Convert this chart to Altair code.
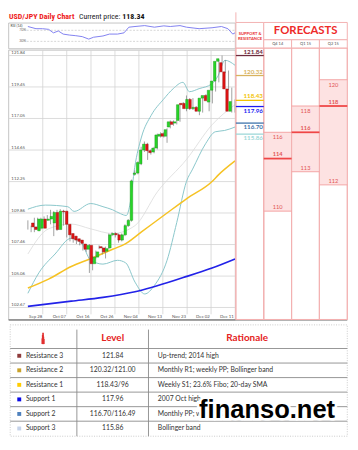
import altair as alt
import pandas as pd

# ---------------- data ----------------
OPEN = [109.1, 108.8, 108.5, 108.7, 109.4, 109.3, 109.4, 109.1, 109.9, 108.6,
        110.0, 110.0, 109.0, 108.3, 108.1, 107.9, 107.8, 107.5, 107.1, 107.4,
        106.0, 106.5, 107.3, 107.2, 106.95, 107.2, 108.2, 108.3, 108.2, 107.8,
        108.2, 108.9, 109.3, 112.8, 112.9, 113.6, 114.65, 115.1, 114.6, 114.5,
        114.8, 115.7, 115.9, 115.7, 116.4, 116.8, 116.7, 116.9, 118.2, 118.2,
        117.8, 118.5, 117.8, 117.9, 117.6, 118.6, 118.8, 118.3, 119.2, 119.9,
        121.4, 121.3, 120.6, 119.3, 117.6]
CLOSE = [108.8, 108.6, 109.4, 109.4, 108.7, 109.4, 109.6, 109.9, 108.6, 110.0,
         109.95, 109.0, 108.2, 107.9, 107.8, 107.7, 107.55, 107.1, 107.4, 106.0,
         106.5, 106.9, 107.2, 106.9, 107.15, 108.2, 108.3, 108.2, 107.8, 108.2,
         108.9, 109.3, 112.3, 112.9, 113.7, 114.65, 115.1, 114.6, 114.45, 114.8,
         115.8, 115.85, 115.7, 116.2, 116.8, 116.6, 116.8, 118.1, 118.1, 117.8,
         118.5, 117.8, 117.9, 117.6, 118.6, 118.8, 118.4, 119.2, 119.9, 121.4,
         121.6, 120.6, 119.3, 117.6, 118.34]
HIGH = [109.3, 108.9, 109.5, 109.5, 109.5, 109.6, 109.7, 110.1, 110.0, 110.1,
        110.15, 110.1, 109.1, 108.4, 108.2, 108.0, 107.9, 107.6, 107.5, 107.5,
        106.6, 107.0, 107.4, 107.3, 107.3, 108.3, 108.4, 108.4, 108.3, 108.3,
        109.0, 109.4, 112.4, 113.1, 113.8, 114.9, 115.3, 115.2, 114.7, 114.9,
        115.9, 116.0, 116.0, 116.3, 116.9, 116.9, 116.9, 118.2, 118.3, 118.8,
        118.6, 118.6, 118.0, 118.0, 118.7, 118.9, 118.9, 119.3, 120.0, 121.5,
        121.84, 121.5, 120.7, 119.4, 118.5]
LOW = [108.6, 108.4, 108.4, 108.6, 108.6, 109.2, 109.3, 109.0, 108.1, 108.5,
       109.85, 108.9, 108.0, 107.7, 107.6, 107.5, 107.4, 107.0, 106.9, 105.3,
       105.5, 106.4, 107.1, 106.7, 106.4, 107.1, 108.1, 108.0, 107.6, 107.7,
       108.1, 108.8, 109.2, 112.7, 112.8, 113.5, 114.5, 113.9, 114.3, 114.4,
       114.7, 115.6, 115.6, 115.2, 116.3, 116.5, 116.6, 116.8, 118.0, 117.6,
       117.7, 117.7, 117.6, 117.3, 117.5, 118.5, 117.6, 118.2, 119.1, 119.8,
       121.3, 120.5, 119.2, 117.5, 117.5]

BB_UP_IDX = [0, 5.4, 12.3, 14.3, 19.4, 23.2, 26.2, 28.6, 30.4, 31.5, 33.0, 35.1,
             38.1, 41.9, 44.9, 47.9, 49.9, 52.9, 56.8, 58.8, 60.9, 64.0]
BB_UP = [110.15, 110.46, 110.34, 109.98, 110.58, 110.34, 110.10, 109.81, 109.67,
         110.46, 113.33, 115.64, 117.29, 118.51, 119.32, 119.8, 119.09, 119.32,
         119.68, 120.31, 121.48, 121.1]
BB_LO_IDX = [0, 3.4, 8.4, 13.4, 16.5, 19.3, 23.2, 27.7, 30.2, 33.1, 36.1, 39.1,
             43.0, 46.0, 49.0, 50.9, 54.9, 57.9, 60.8, 64.0]
BB_LO = [103.75, 105.31, 106.74, 107.94, 107.6, 106.3, 105.97, 106.26, 106.07,
         104.6, 103.7, 104.35, 106.26, 109.14, 112.26, 113.2, 115.13, 116.04,
         116.14, 116.4]
BB_MID_IDX = [0, 6.4, 13.4, 19.3, 26.2, 33.1, 40.1, 49.0, 56.9, 64.0]
BB_MID = [106.74, 108.66, 109.02, 108.66, 108.3, 108.9, 111.5, 113.93, 116.57, 118.1]
SMA50_IDX = [0, 6.4, 13.4, 19.3, 26.2, 30.1, 35.1, 43.0, 49.0, 56.9, 58.8, 64.0]
SMA50 = [104.15, 104.83, 105.79, 106.38, 107.10, 107.51, 108.42, 109.86, 110.94,
         112.26, 112.74, 113.82]
SMA200_IDX = [0, 13.4, 23.2, 33.1, 48.0, 56.9, 64.0]
SMA200 = [102.75, 103.15, 103.44, 103.87, 104.95, 105.67, 106.36]

RSI_IDX = [0, 2.5, 4.5, 6.4, 7.9, 9.4, 10.9, 12.8, 14.8, 16.8, 18.8, 20.3, 23.2,
           25.2, 27.7, 29.7, 31.2, 33.1, 36.1, 39.1, 42.0, 44.0, 47.0, 49.0, 52.9,
           56.9, 59.8, 61.8, 63.3, 64.0]
RSI = [83.7, 75.8, 75.8, 73.4, 60.8, 67.6, 56.3, 52.9, 50.5, 47.1, 38.2, 45.0, 49.5,
       56.3, 56.3, 60.8, 81.3, 83.7, 87.0, 81.3, 86.0, 83.7, 87.0, 81.3, 75.8,
       79.2, 83.7, 75.8, 56.3, 60.8]
RSI_LEVELS = [70, 30]
RSI_LEVEL_LABELS = ["70%", "30%"]

DATE_LABELS = ["Sep 28", "Oct 07", "Oct 16", "Oct 26", "Nov 04", "Nov 13",
               "Nov 23", "Dec 02", "Dec 11"]
DATE_LABEL_IDX = [2.4, 9.7, 17.0, 24.4, 31.8, 39.3, 46.7, 54.1, 61.5]
GRID_IDX = [4.6, 12.0, 19.5, 26.9, 34.3, 41.7, 49.2, 56.6]
PRICE_TICKS = [121.84, 119.45, 117.05, 114.65, 112.25, 109.86, 107.46, 105.06, 102.67]

SR_LEVELS = [121.84, 120.32, 118.43, 117.96, 116.70, 115.86]
SR_KIND = ["R", "R", "R", "S", "S", "S"]
SR_COLORS = ["#6e2a3c", "#d8b35e", "#f3c300", "#1c1cf2", "#3c72aa", "#9ed8d8"]

FC_QUARTERS = ["Q4 14", "Q1 15", "Q2 15"]
FC_HIGH = [116, 118, 120]
FC_TARGET = [114, 116, 118]
FC_LOW = [110, 113, 112]

ROW_NAMES = ["Resistance 3", "Resistance 2", "Resistance 1",
             "Support 1", "Support 2", "Support 3"]
ROW_LEVELS = ["121.84", "120.32/121.00", "118.43/96", "117.96",
              "116.70/116.49", "115.86"]
ROW_RATIONALE = ["Up-trend; 2014 high", "Monthly R1; weekly PP; Bollinger band",
                 "Weekly S1; 23.6% Fibo; 20-day SMA", "2007 Oct high",
                 "Monthly PP; weekly S2; 38.2% Fibo", "Bollinger band"]
ROW_COLORS = ["#8e3b3b", "#c9a22a", "#ffcc00", "#0a0ae6", "#4f81bd", "#c5d3ea"]
ICON_BARS = [0.5, 0.8, 1.0, 0.65, 0.45]

# ---------------- layout ----------------
SX = 0.98
SY = 0.9644
W, H = 349, 434


def PX(x):
    return round((x - 1.0) * SX, 2)


def PY(y):
    return round((y - 1.0) * SY, 2)


def F(s):
    return round(s * SY, 2)


FONT = "Lato"
NARROW = "Liberation Sans Narrow, Roboto Condensed, Lato"
IDX_SCALE = alt.Scale(domain=[0, 64], range=[PX(21.7), PX(237.4)], nice=False, zero=False)
PRICE_SCALE = alt.Scale(domain=[102.67, 121.84], range=[PY(313.3), PY(46.7)], nice=False, zero=False)
RSI_SCALE = alt.Scale(domain=[0, 100], range=[PY(40.5), PY(11.2)], nice=False, zero=False)
COL_SCALE = alt.Scale(domain=[0, 4], range=[PX(238.3), PX(354.3)], nice=False, zero=False)
ROW_SCALE = alt.Scale(type="band", domain=ROW_NAMES, range=[PY(356.7), PY(449.0)],
                      paddingInner=0, paddingOuter=0)
ICON_X = alt.Scale(domain=[-0.5, 4.5], range=[PX(31.5), PX(43.5)], nice=False, zero=False)
ICON_Y = alt.Scale(domain=[0, 1], range=[PY(352), PY(340)], nice=False, zero=False)


def xi(f):
    return alt.X(f"{f}:Q", scale=IDX_SCALE, axis=None)


def yp(f):
    return alt.Y(f"{f}:Q", scale=PRICE_SCALE, axis=None)


def xc(f):
    return alt.X(f"{f}:Q", scale=COL_SCALE, axis=None)


one = pd.DataFrame({"a": [0]})
layers = []

# frames
layers.append(alt.Chart(one).mark_rect(fill="white", stroke="#b5b5b5", strokeWidth=0.8).encode(
    x=alt.value(PX(1.7)), x2=alt.value(PX(237.7)), y=alt.value(PY(41)), y2=alt.value(PY(326.5))))
layers.append(alt.Chart(one).mark_rect(fill="white", stroke="#b5b5b5", strokeWidth=0.8).encode(
    x=alt.value(PX(1.7)), x2=alt.value(PX(237.7)), y=alt.value(PY(12.3)), y2=alt.value(PY(39.5))))

# grid
ptick = pd.DataFrame({"p": PRICE_TICKS, "lab": [f"{v:.2f}" for v in PRICE_TICKS]})
layers.append(alt.Chart(ptick).mark_rule(color="#d2d2d2", strokeWidth=0.8).encode(
    y=yp("p"), x=alt.value(PX(1.7)), x2=alt.value(PX(237.7))))
grid = pd.DataFrame({"i": GRID_IDX})
layers.append(alt.Chart(grid).mark_rule(color="#d2d2d2", strokeWidth=0.8).encode(
    x=xi("i"), y=alt.value(PY(41)), y2=alt.value(PY(320.5))))


def line(idx, vals, color, width):
    df = pd.DataFrame({"i": idx, "v": vals})
    return alt.Chart(df).mark_line(color=color, strokeWidth=width, interpolate="monotone").encode(
        x=xi("i"), y=yp("v"))


layers.append(line(BB_MID_IDX, BB_MID, "#dadada", 0.8))
layers.append(line(BB_UP_IDX, BB_UP, "#88c6ca", 1.0))
layers.append(line(BB_LO_IDX, BB_LO, "#88c6ca", 1.0))
layers.append(line(SMA200_IDX, SMA200, "#2222e8", 1.7))
layers.append(line(SMA50_IDX, SMA50, "#f6c223", 1.5))

# candles
cd = pd.DataFrame({"i": list(range(len(OPEN))), "o": OPEN, "c": CLOSE, "h": HIGH, "l": LOW})
cd["fill"] = ["#27d627" if c >= o else "#e01414" for o, c in zip(OPEN, CLOSE)]
cd["edge"] = ["#138a13" if c >= o else "#8a0a0a" for o, c in zip(OPEN, CLOSE)]
layers.append(alt.Chart(cd).mark_rule(color="#777777", strokeWidth=0.7).encode(
    x=xi("i"), y=yp("l"), y2=alt.Y2("h:Q")))
layers.append(alt.Chart(cd).mark_bar(size=2.6, strokeWidth=0.4).encode(
    x=xi("i"), y=yp("o"), y2=alt.Y2("c:Q"),
    color=alt.Color("fill:N", scale=None), stroke=alt.Stroke("edge:N", scale=None)))

# axis labels
layers.append(alt.Chart(ptick).mark_text(align="left", baseline="bottom", dy=-0.4,
                                         fontSize=F(4.6), color="#555555", font=FONT).encode(
    x=alt.value(PX(4.5)), y=yp("p"), text="lab:N"))
dl = pd.DataFrame({"i": DATE_LABEL_IDX, "lab": DATE_LABELS})
layers.append(alt.Chart(dl).mark_text(align="center", baseline="middle", fontSize=F(4.6),
                                      color="#555555", font=FONT).encode(
    x=xi("i"), y=alt.value(PY(323.3)), text="lab:N"))

# RSI panel
rl = pd.DataFrame({"r": RSI_LEVELS, "lab": RSI_LEVEL_LABELS})
layers.append(alt.Chart(rl).mark_rule(color="#c4c4c4", strokeWidth=0.7, strokeDash=[2, 1.5]).encode(
    y=alt.Y("r:Q", scale=RSI_SCALE, axis=None), x=alt.value(PX(20.5)), x2=alt.value(PX(237.7))))
layers.append(alt.Chart(rl).mark_text(align="center", baseline="middle", fontSize=F(3.8),
                                      color="#666666", font=FONT).encode(
    y=alt.Y("r:Q", scale=RSI_SCALE, axis=None), x=alt.value(PX(16.3)), text="lab:N"))
rsi = pd.DataFrame({"i": RSI_IDX, "r": RSI})
layers.append(alt.Chart(rsi).mark_line(color="#8080f0", strokeWidth=1.0).encode(
    x=xi("i"), y=alt.Y("r:Q", scale=RSI_SCALE, axis=None)))
layers.append(alt.Chart(one).mark_text(align="left", baseline="middle", fontSize=F(3.8),
                                       color="#444444", font=FONT, text="RSI (14)").encode(
    x=alt.value(PX(3.5)), y=alt.value(PY(15.3))))

# bottom dark line
layers.append(alt.Chart(one).mark_rule(color="#555555", strokeWidth=1).encode(
    x=alt.value(PX(1.7)), x2=alt.value(PX(354.3)), y=alt.value(PY(326.5))))

# ---------------- right panel ----------------
cols = pd.DataFrame({"c0": [0, 1, 2, 3], "c1": [1, 2, 3, 4]})
PINK = "#f3b1b1"
layers.append(alt.Chart(cols).mark_rect(fill="white", stroke=PINK, strokeWidth=1).encode(
    x=xc("c0"), x2=alt.X2("c1:Q"), y=alt.value(PY(38.7)), y2=alt.value(PY(326))))
fc = pd.DataFrame({"q": FC_QUARTERS, "c0": [1, 2, 3], "c1": [2, 3, 4], "cm": [1.5, 2.5, 3.5],
                   "hi": FC_HIGH, "tg": FC_TARGET, "lo": FC_LOW})
fc["hl"] = fc["hi"].astype(str)
fc["tl"] = fc["tg"].astype(str)
fc["ll"] = fc["lo"].astype(str)
layers.append(alt.Chart(fc).mark_rect(fill="#fde2e2").encode(
    x=xc("c0"), x2=alt.X2("c1:Q"), y=yp("lo"), y2=alt.Y2("hi:Q")))
layers.append(alt.Chart(cols).mark_rect(fillOpacity=0, stroke=PINK, strokeWidth=1).encode(
    x=xc("c0"), x2=alt.X2("c1:Q"), y=alt.value(PY(38.7)), y2=alt.value(PY(326))))
for fld in ["hi", "lo"]:
    layers.append(alt.Chart(fc).mark_rule(color="#f4a4a4", strokeWidth=1).encode(
        x=xc("c0"), x2=alt.X2("c1:Q"), y=yp(fld)))
layers.append(alt.Chart(fc).mark_rule(color="#ef4646", strokeWidth=1.8).encode(
    x=xc("c0"), x2=alt.X2("c1:Q"), y=yp("tg")))
FCOL = "#e25353"
layers.append(alt.Chart(fc).mark_text(baseline="top", dy=2, fontSize=F(6), color=FCOL, font=FONT).encode(
    x=xc("cm"), y=yp("hi"), text="hl:N"))
layers.append(alt.Chart(fc).mark_text(baseline="bottom", dy=-1.2, fontSize=F(6), color=FCOL,
                                      fontWeight="bold", font=FONT).encode(
    x=xc("cm"), y=yp("tg"), text="tl:N"))
layers.append(alt.Chart(fc).mark_text(baseline="bottom", dy=-1.2, fontSize=F(6), color=FCOL, font=FONT).encode(
    x=xc("cm"), y=yp("lo"), text="ll:N"))

# S&R levels
sr = pd.DataFrame({"p": SR_LEVELS, "k": SR_KIND, "col": SR_COLORS,
                   "lab": [f"{v:.2f}" for v in SR_LEVELS], "c0": [0] * 6, "c1": [1] * 6})
layers.append(alt.Chart(sr).mark_rule(strokeWidth=1.3).encode(
    x=xc("c0"), x2=alt.X2("c1:Q"), y=yp("p"), color=alt.Color("col:N", scale=None)))
layers.append(alt.Chart(sr[sr.k == "R"]).mark_text(align="right", baseline="bottom", dy=-1,
                                                   fontSize=F(6.6), fontWeight="bold", font=FONT).encode(
    x=alt.value(PX(266.5)), y=yp("p"), text="lab:N", color=alt.Color("col:N", scale=None)))
layers.append(alt.Chart(sr[sr.k == "S"]).mark_text(align="right", baseline="top", dy=1.2,
                                                   fontSize=F(6.6), fontWeight="bold", font=FONT).encode(
    x=alt.value(PX(266.5)), y=yp("p"), text="lab:N", color=alt.Color("col:N", scale=None)))

# headers
hdr = pd.DataFrame({"c0": [0, 1], "c1": [1, 4]})
layers.append(alt.Chart(hdr.iloc[[0]]).mark_rect(fill="white", stroke=PINK, strokeWidth=1).encode(
    x=xc("c0"), x2=alt.X2("c1:Q"), y=alt.value(PY(11.7)), y2=alt.value(PY(38.7))))
layers.append(alt.Chart(hdr.iloc[[1]]).mark_rect(fill="white", stroke=PINK, strokeWidth=1).encode(
    x=xc("c0"), x2=alt.X2("c1:Q"), y=alt.value(PY(11.7)), y2=alt.value(PY(30))))
layers.append(alt.Chart(fc).mark_rect(fill="white", stroke=PINK, strokeWidth=1).encode(
    x=xc("c0"), x2=alt.X2("c1:Q"), y=alt.value(PY(30)), y2=alt.value(PY(38.7))))
layers.append(alt.Chart(one).mark_rule(color=PINK, strokeWidth=1).encode(
    x=alt.value(PX(238.3)), y=alt.value(0), y2=alt.value(PY(11.7))))
layers.append(alt.Chart(fc).mark_text(baseline="middle", fontSize=F(4.2), color="#555555", font=FONT).encode(
    x=xc("cm"), y=alt.value(PY(34.5)), text="q:N"))
layers.append(alt.Chart(one).mark_text(baseline="middle", fontSize=F(12), color="#ee2a2a",
                                       fontWeight="bold", font=FONT, text="FORECASTS").encode(
    x=alt.value(PX(311)), y=alt.value(PY(21))))
layers.append(alt.Chart(one).mark_text(baseline="middle", fontSize=F(4.4), color="#e83030",
                                       fontWeight="bold", font=FONT, text="SUPPORT &").encode(
    x=alt.value(PX(253)), y=alt.value(PY(23.5))))
layers.append(alt.Chart(one).mark_text(baseline="middle", fontSize=F(4.4), color="#e83030",
                                       fontWeight="bold", font=FONT, text="RESISTANCE").encode(
    x=alt.value(PX(253)), y=alt.value(PY(29))))

# title
layers.append(alt.Chart(one).mark_text(align="left", baseline="middle", fontSize=F(8.4),
                                       color="#ee2222", fontWeight="bold", font=NARROW,
                                       text="USD/JPY Daily Chart").encode(
    x=alt.value(PX(2)), y=alt.value(PY(6))))
layers.append(alt.Chart(one).mark_text(align="left", baseline="middle", fontSize=F(8.2),
                                       color="#222222", font=NARROW, text="Current price:").encode(
    x=alt.value(PX(75)), y=alt.value(PY(6))))
layers.append(alt.Chart(one).mark_text(align="left", baseline="middle", fontSize=F(8.4),
                                       color="#111111", fontWeight="bold", font=NARROW, text="118.34").encode(
    x=alt.value(PX(120)), y=alt.value(PY(6))))

# ---------------- table ----------------
tb = pd.DataFrame({"name": ROW_NAMES, "lev": ROW_LEVELS, "rat": ROW_RATIONALE, "col": ROW_COLORS})
ry = alt.Y("name:N", scale=ROW_SCALE, axis=None)
layers.append(alt.Chart(one).mark_rect(fill="white", stroke="#bdbdbd", strokeWidth=0.8,
                                       strokeDash=[1, 1.5]).encode(
    x=alt.value(PX(3.3)), x2=alt.value(PX(354.3)), y=alt.value(PY(331.7)), y2=alt.value(PY(449.5))))
layers.append(alt.Chart(tb).mark_rule(color="#8a8a8a", strokeWidth=0.9).encode(
    y=alt.Y("name:N", scale=ROW_SCALE, axis=None, bandPosition=0),
    x=alt.value(PX(3.3)), x2=alt.value(PX(354.3))))
for cx in [72.7, 147.3]:
    layers.append(alt.Chart(one).mark_rule(color="#8a8a8a", strokeWidth=0.9).encode(
        x=alt.value(PX(cx)), y=alt.value(PY(336.7)), y2=alt.value(PY(449.5))))
layers.append(alt.Chart(tb).mark_square(size=16, opacity=1).encode(
    x=alt.value(PX(12.7)), y=ry, color=alt.Color("col:N", scale=None)))
layers.append(alt.Chart(tb).mark_text(align="left", baseline="middle", fontSize=F(7.2),
                                      color="#333333", font=FONT).encode(
    x=alt.value(PX(19.7)), y=ry, text="name:N"))
layers.append(alt.Chart(tb).mark_text(align="center", baseline="middle", fontSize=F(7.2),
                                      color="#333333", font=FONT).encode(
    x=alt.value(PX(110)), y=ry, text="lev:N"))
layers.append(alt.Chart(tb).mark_text(align="left", baseline="middle", fontSize=F(7.2),
                                      color="#333333", font=FONT).encode(
    x=alt.value(PX(157)), y=ry, text="rat:N"))
layers.append(alt.Chart(one).mark_text(align="center", baseline="middle", fontSize=F(10.5),
                                       color="#e52222", fontWeight="bold", font=FONT, text="Level").encode(
    x=alt.value(PX(110)), y=alt.value(PY(346))))
layers.append(alt.Chart(one).mark_text(align="center", baseline="middle", fontSize=F(10.5),
                                       color="#e52222", fontWeight="bold", font=FONT,
                                       text="Rationale").encode(
    x=alt.value(PX(250)), y=alt.value(PY(346))))
icon = pd.DataFrame({"k": list(range(len(ICON_BARS))), "h": ICON_BARS})
layers.append(alt.Chart(icon).mark_bar(size=1.7, color="#e23030").encode(
    x=alt.X("k:Q", scale=ICON_X, axis=None), y=alt.Y("h:Q", scale=ICON_Y, axis=None),
    y2=alt.datum(0)))

# watermark
for col, sw in [("white", 5), ("black", 0)]:
    kw = dict(stroke="white", strokeWidth=sw) if sw else {}
    layers.append(alt.Chart(one).mark_text(align="left", baseline="alphabetic", fontSize=F(27),
                                           fontWeight="bold", font="Liberation Sans", color=col,
                                           text="finanso.net", **kw).encode(
        x=alt.value(PX(200)), y=alt.value(PY(430))))

chart = alt.layer(*layers).resolve_scale(x="independent", y="independent").properties(
    width=W, height=H, padding=0, autosize=alt.AutoSizeParams(type="none"),
    background="white").configure_view(stroke=None)

chart.save("out.html", embed_options={"renderer": "svg", "actions": False})
